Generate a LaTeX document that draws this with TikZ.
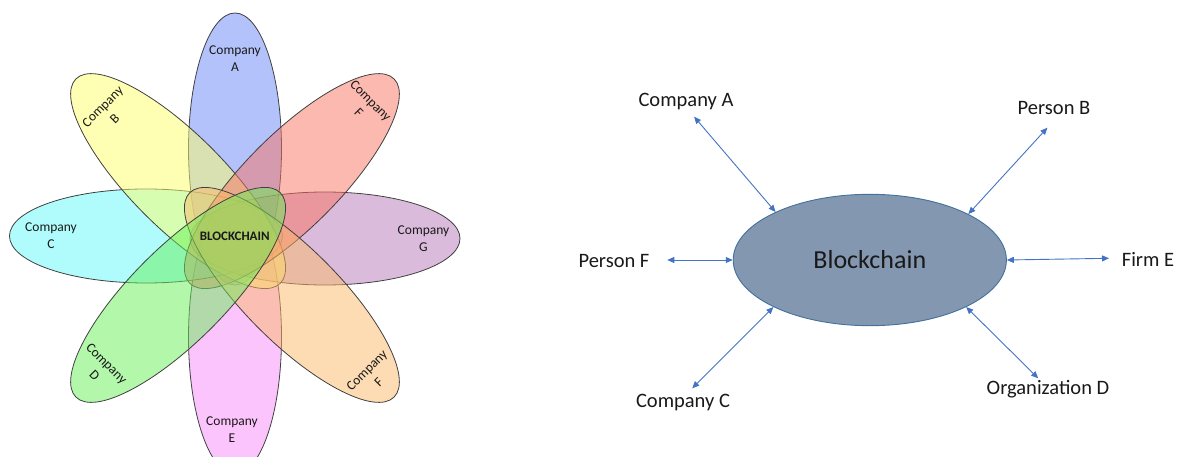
\documentclass[tikz,border=0pt]{standalone}
\usepackage{fontspec}
\setmainfont{Carlito}
\usetikzlibrary{shapes.geometric,arrows.meta}

% petal fills (drawn at half opacity)
\definecolor{petalA}{RGB}{103,133,247}
\definecolor{petalB}{RGB}{255,255,103}
\definecolor{petalC}{RGB}{97,249,249}
\definecolor{petalD}{RGB}{103,239,87}
\definecolor{petalE}{RGB}{249,137,249}
\definecolor{petalFt}{RGB}{249,115,97}
\definecolor{petalFb}{RGB}{251,185,105}
\definecolor{petalG}{RGB}{183,119,183}
% network colours
\definecolor{hubfill}{RGB}{132,151,176}
\definecolor{hubline}{RGB}{65,113,156}
\definecolor{linkblue}{RGB}{68,114,196}

\begin{document}
\begin{tikzpicture}[x=1pt,y=1pt,
  petal/.style={draw=black!75, line width=0.8pt, fill opacity=0.5},
  plabel/.style={font=\fontsize{13.5}{17}\selectfont, align=center, text=black!90, inner sep=0pt},
  corelabel/.style={font=\fontsize{13}{15}\selectfont\bfseries, text=black!90, inner sep=0pt},
  hubnode/.style={ellipse, draw=hubline, line width=0.9pt, fill=hubfill,
    minimum width=273.2pt, minimum height=131.4pt, inner sep=0pt,
    font=\fontsize{26}{30}\selectfont, text=black!90},
  rlabel/.style={font=\fontsize{20.5}{24}\selectfont, text=black!90, inner sep=0pt},
  link/.style={draw=linkblue, line width=0.9pt,
    {Triangle[length=7pt,width=6pt]}-{Triangle[length=7pt,width=6pt]}}
]
\useasboundingbox (0,0) rectangle (1180,456);

% ---- flower of overlapping petals ----
\draw[petal, fill=petalA] (235,307) ellipse [x radius=46.5, y radius=136];
\draw[petal, fill=petalE] (235,119) ellipse [x radius=46.5, y radius=137];
\draw[petal, fill=petalC] (146,220) ellipse [x radius=136.5, y radius=47];
\draw[petal, fill=petalG] (325,217.5) ellipse [x radius=135, y radius=46.5];
\draw[petal, fill=petalB, rotate around={-45:(178.1,274.9)}] (178.1,274.9) ellipse [x radius=144.5, y radius=47];
\draw[petal, fill=petalFt, rotate around={45:(291.9,274.9)}] (291.9,274.9) ellipse [x radius=144.5, y radius=47];
\draw[petal, fill=petalFb, rotate around={-45:(291.9,161.1)}] (291.9,161.1) ellipse [x radius=144.5, y radius=47];
\draw[petal, fill=petalD, rotate around={45:(178.1,161.1)}] (178.1,161.1) ellipse [x radius=144.5, y radius=47];

\node[plabel] (lblA) at (235,397.5) {Company\\A};
\node[plabel, rotate=45] (lblB) at (108.5,343.3) {Company\\B};
\node[plabel, rotate=-45] (lblFt) at (364.8,349.2) {Company\\F};
\node[plabel] (lblC) at (51,220) {Company\\C};
\node[plabel] (lblG) at (423.5,217) {Company\\G};
\node[plabel, rotate=-45] (lblD) at (100.7,86.7) {Company\\D};
\node[plabel, rotate=45] (lblFb) at (372.7,80) {Company\\F};
\node[plabel] (lblE) at (232,26) {Company\\E};
\node[corelabel] (core) at (234.7,219.3) {BLOCKCHAIN};

% ---- hub and spokes ----
\node[hubnode] (hub) at (869.8,196) {Blockchain};

\node[rlabel] (coA) at (686,354) {Company A};
\node[rlabel] (peB) at (1054,348) {Person B};
\node[rlabel] (peF) at (614,195) {Person F};
\node[rlabel] (fiE) at (1148,197) {Firm E};
\node[rlabel] (coC) at (683,54) {Company C};
\node[rlabel] (orD) at (1048,67) {Organization D};

\coordinate (endA) at (694.1,339.3);
\coordinate (endB) at (1047.4,328.3);
\coordinate (endF) at (667.3,196);
\coordinate (endE) at (1109,197.7);
\coordinate (endC) at (692.2,67.7);
\coordinate (endD) at (1038.2,77.7);

\draw[link] (endA) -- (hub.153.7);
\draw[link] (endB) -- (hub.25.7);
\draw[link] (endF) -- (hub.180);
\draw[link] (hub.0) -- (endE);
\draw[link] (endC) -- (hub.206);
\draw[link] (hub.334.1) -- (endD);
\end{tikzpicture}
\end{document}
